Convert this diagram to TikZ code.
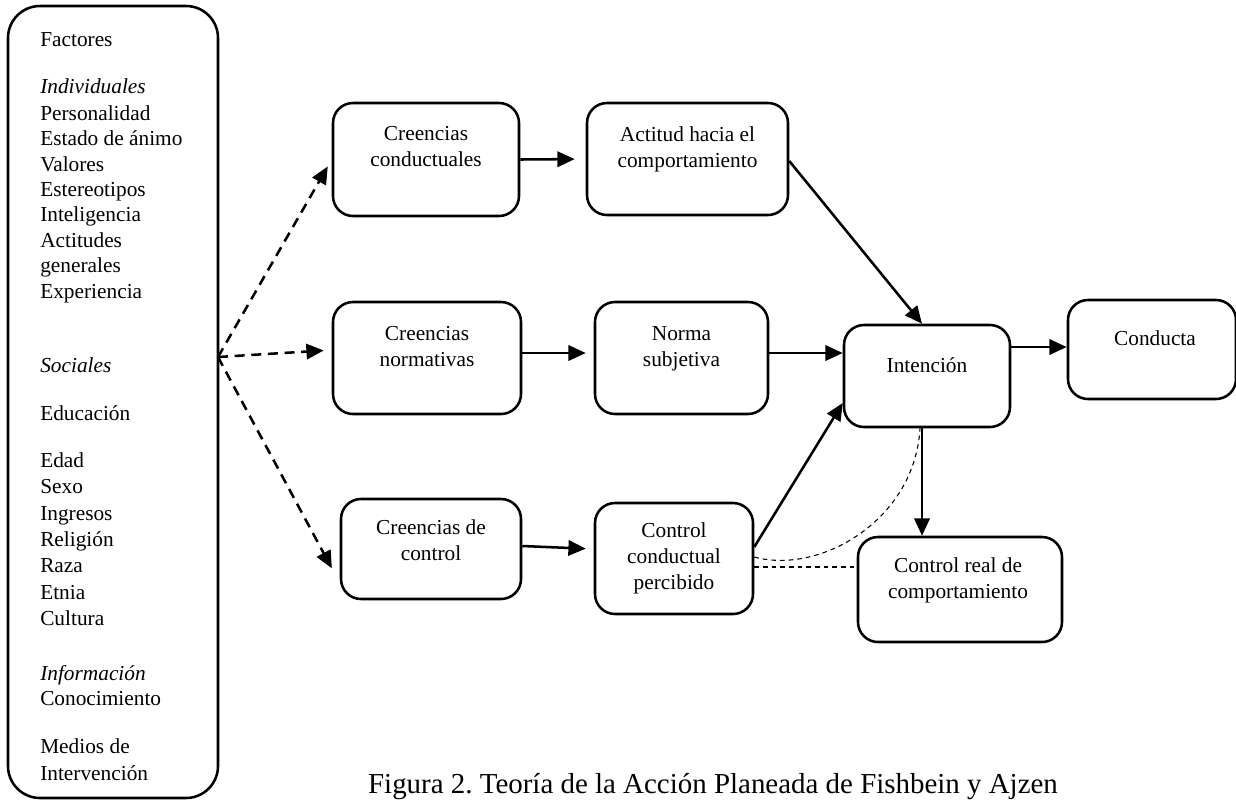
\documentclass[tikz,border=0pt]{standalone}
\usepackage{fontspec}
\setmainfont{Liberation Serif}
\usetikzlibrary{arrows.meta,calc,fit}
\begin{document}
\frenchspacing
\begin{tikzpicture}[x=0.75pt,y=-0.75pt,
  box/.style={draw, line width=1.9pt, rounded corners=15pt, inner sep=0pt},
  bigbox/.style={draw, line width=1.9pt, rounded corners=24pt, inner sep=0pt},
  boxtxt/.style={anchor=north, align=center, inner sep=0pt, font=\fontsize{16}{19.5}\selectfont},
  lefttxt/.style={anchor=base west, inner sep=0pt, font=\fontsize{16}{19.5}\selectfont},
  arr/.style={line width=1.9pt, -{Triangle[length=13pt,width=11.5pt]}},
  darr/.style={arr, dash pattern=on 7.5pt off 5pt},
  thindash/.style={line width=0.8pt, dash pattern=on 3.5pt off 3pt}]
\useasboundingbox (0,0) rectangle (1236,801);

% left box
\node[bigbox, fit={(8,6) (218,798)}] (lb) {};
\foreach \n/\y/\t in {f1/46/Factores, f2/93/\textit{Individuales}, f3/120/Personalidad,
  f4/145.5/Estado de ánimo, f5/171/Valores, f6/196/Estereotipos, f7/221.5/Inteligencia,
  f8/247/Actitudes, f9/272/generales, f10/298/Experiencia, f11/372/\textit{Sociales},
  f12/420/Educación, f13/467/Edad, f14/493/Sexo, f15/520/Ingresos, f16/546/Religión,
  f17/572/Raza, f18/599/Etnia, f19/625/Cultura, f20/680/\textit{Información},
  f21/705/Conocimiento, f22/753/Medios de, f23/780/Intervención}
  \node[lefttxt] (\n) at (40,\y) {\t};

% boxes
\node[box, fit={(333,103) (519,216)}] (cc) {};
\node[box, fit={(587,103) (788,215)}] (ac) {};
\node[box, fit={(333,302) (521,414)}] (cn) {};
\node[box, fit={(595,302) (768,414)}] (ns) {};
\node[box, fit={(844,325) (1010,427)}] (int) {};
\node[box, fit={(1068,300) (1236,399)}] (con) {};
\node[box, fit={(341,499) (521,599)}] (cdc) {};
\node[box, fit={(595,503) (753,614)}] (ccp) {};
\node[box, fit={(858,537) (1062,642)}] (cr) {};

% box texts (first baseline minus strut height)
\node[boxtxt] (cct) at (426,122) {\strut Creencias\\\strut conductuales};
\node[boxtxt] (act) at (687.5,123) {\strut Actitud hacia el\\\strut comportamiento};
\node[boxtxt] (cnt) at (427,322) {\strut Creencias\\\strut normativas};
\node[boxtxt] (nst) at (681.5,322) {\strut Norma\\\strut subjetiva};
\node[boxtxt] (intt) at (927,354) {\strut Intención};
\node[boxtxt] (cont) at (1155,327) {\strut Conducta};
\node[boxtxt] (cdct) at (431,516) {\strut Creencias de\\\strut control};
\node[boxtxt] (ccpt) at (674,519) {\strut Control\\\strut conductual\\\strut percibido};
\node[boxtxt] (crt) at (958,554) {\strut Control real de\\\strut comportamiento};

% dashed arrows from the factors box
\coordinate (o) at (218,357);
\draw[darr, shorten >=6pt] (o) -- (cc.west);
\draw[darr, shorten >=6pt] (o) -- ($(cn.west)+(0,-8)$);
\draw[darr, shorten >=12.5pt] (o) -- ($(cdc.west)+(0,34)$);

% solid arrows
\draw[arr, shorten >=8.25pt] (cc.east) -- (ac.west);
\draw[arr, shorten >=6pt] ($(cn.east)+(0,-5)$) -- ($(ns.west)+(0,-5)$);
\draw[arr, shorten >=6pt] ($(cdc.east)+(0,-3)$) -- ($(ccp.west)+(0,-9.5)$);
\draw[arr] ($(ac.east)+(0,2)$) -- ($(int.north)+(-5,0)$);
\draw[arr] ($(ns.east)+(0,-5)$) -- ($(int.west)+(0,-23)$);
\draw[arr] ($(ccp.east)+(0,-11.5)$) -- ($(int.west)+(0,27)$);
\draw[arr] ($(int.east)+(0,-29)$) -- ($(con.west)+(0,-2.5)$);
\draw[arr] ($(int.south)+(-5,0)$) -- ($(cr.north)+(-38,0)$);

% thin dashed links
\draw[thindash] ($(ccp.east)+(0,-1.5)$) .. controls (820,575) and (915,520) .. ($(int.south)+(-7,0)$);
\draw[thindash] ($(ccp.east)+(0,8.5)$) -- ($(cr.west)+(0,-22.5)$);

% caption
\node[anchor=base, inner sep=0pt, font=\fontsize{21.7}{26}\selectfont] (cap) at (713,793)
  {Figura 2. Teoría de la Acción Planeada de Fishbein y Ajzen};
\end{tikzpicture}
\end{document}
